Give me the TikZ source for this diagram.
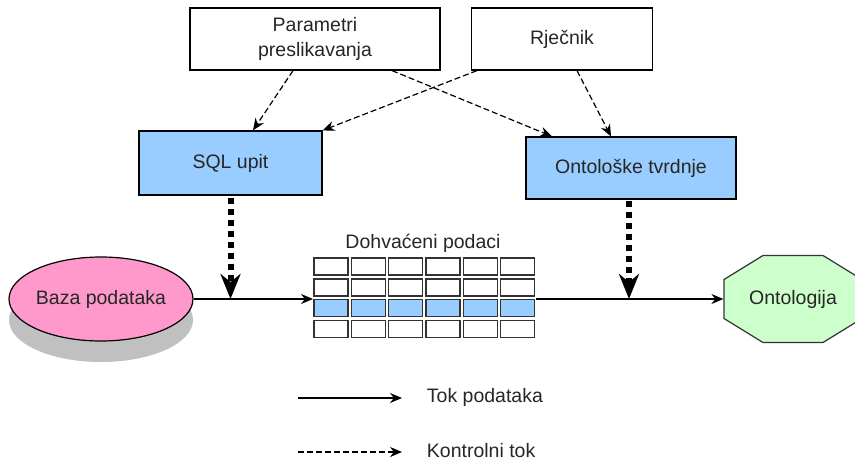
\documentclass[tikz,border=0pt]{standalone}
\usepackage{fontspec}
\setmainfont{Liberation Sans}
\usetikzlibrary{arrows.meta,shapes.geometric,shadows,calc}

\definecolor{upitblue}{RGB}{153,204,255}
\definecolor{bazapink}{RGB}{255,153,204}
\definecolor{ontogreen}{RGB}{204,255,204}
\definecolor{sjena}{RGB}{192,192,192}

\begin{document}
\begin{tikzpicture}[x=1pt,y=-1pt,line width=1.2pt,>={Stealth[length=12pt,width=10pt]},
  font=\fontsize{19.5}{25}\selectfont,text=black!85,
  kutija/.style={draw,rectangle,inner sep=0pt,align=center},
  celija/.style={draw=black!80,rectangle,inner sep=0pt,minimum width=34,minimum height=17},
  kontrola/.style={->,dash pattern=on 6pt off 3pt},
  punitok/.style={-{Stealth[length=25pt,width=20pt]},line width=6pt,dash pattern=on 6pt off 5pt}]
\useasboundingbox (0,0) rectangle (855,461);
% ulazi
\node[kutija,minimum width=250,minimum height=62] (param) at (315,39) {Parametri\\preslikavanja};
\node[kutija,minimum width=181,minimum height=62] (rjecnik) at (562,39) {Rječnik};
% upit i tvrdnje
\node[kutija,fill=upitblue,minimum width=183,minimum height=64] (upit) at (230.5,163) {SQL upit};
\node[kutija,fill=upitblue,minimum width=210,minimum height=62] (tvrdnje) at (631,168) {Ontološke tvrdnje};
% baza sa sjenom
\node[ellipse,draw,fill=bazapink,inner sep=0pt,minimum width=175,minimum height=84,
  drop shadow={shadow xshift=0pt,shadow yshift=-21pt,opacity=1,fill=sjena}] (baza) at (101,299) {Baza podataka};
% ontologija (osmerokut)
\coordinate (ontoc) at (793,299);
\draw[fill=ontogreen,draw=black!80] ($(ontoc)+(-30,-43.5)$) -- ($(ontoc)+(30,-43.5)$) -- ($(ontoc)+(69,-19.5)$)
  -- ($(ontoc)+(69,19.5)$) -- ($(ontoc)+(30,43.5)$) -- ($(ontoc)+(-30,43.5)$) -- ($(ontoc)+(-69,19.5)$)
  -- ($(ontoc)+(-69,-19.5)$) -- cycle;
\node[inner sep=0pt,minimum width=138,minimum height=87] (onto) at (ontoc) {Ontologija};
% tablica dohvacenih podataka
\node (dohvaceni) at (423,243) {Dohvaćeni podaci};
\foreach \c in {0,...,5}
  \foreach \r/\boja in {0/white,1/white,2/upitblue,3/white}
    \node[celija,fill=\boja] (cell-\c-\r) at (331+37.3*\c,266.5+20.9*\r) {};
\coordinate (tblW) at (313,299);
\coordinate (tblE) at (536,299);
% tok podataka
\draw[->] (baza.east) -- (tblW);
\draw[->] (tblE) -- (onto.west);
\draw[punitok] ([yshift=-2pt]upit.south) -- (upit.south |- tblW);
\draw[punitok] ([xshift=-2pt,yshift=-1pt]tvrdnje.south) -- ([xshift=-2pt]tvrdnje.south |- tblE);
% kontrolni tok
\draw[kontrola] ([xshift=-22pt]param.south) -- ([xshift=22.5pt]upit.north);
\draw[kontrola] ([xshift=77pt]param.south) -- ([xshift=-79pt]tvrdnje.north);
\draw[kontrola] ([xshift=-85pt]rjecnik.south) -- (upit.north east);
\draw[kontrola] ([xshift=15pt]rjecnik.south) -- ([xshift=-20pt]tvrdnje.north);
% legenda
\coordinate (lgA) at (298,398);
\coordinate (lgB) at (402,398);
\coordinate (lgC) at (298,452);
\coordinate (lgD) at (402,452);
\node[anchor=west] (lgtok) at (423,397) {Tok podataka};
\node[anchor=west] (lgkontrola) at (423,451) {Kontrolni tok};
\draw[->] (lgA) -- (lgB);
\draw[kontrola] (lgC) -- (lgD);
\end{tikzpicture}
\end{document}
